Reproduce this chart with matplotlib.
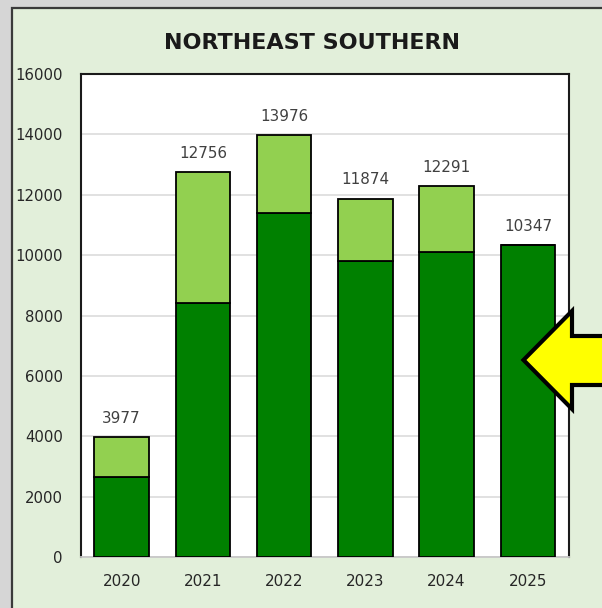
import matplotlib
matplotlib.use("Agg")
import matplotlib.pyplot as plt
from matplotlib.patches import Rectangle, Polygon
import numpy as np

years = ["2020", "2021", "2022", "2023", "2024", "2025"]
dark_vals = [2640, 8420, 11410, 9820, 10090, 10347]
light_vals = [1337, 4336, 2566, 2054, 2201, 0]
title = "NORTHEAST SOUTHERN"
yticks = [0, 2000, 4000, 6000, 8000, 10000, 12000, 14000, 16000]

W, H = 602, 608
fig = plt.figure(figsize=(W / 100, H / 100), dpi=100, facecolor="#d6d6d6")

def fx(px):
    return px / W

def fy(py):
    return 1 - py / H

# chart area background
fig.add_artist(Rectangle((fx(11.5), fy(610)), fx(602 - 11.5 + 5), (608 - 7.5 + 2) / H + 0,
                         transform=fig.transFigure, facecolor="#e2efda",
                         edgecolor="#3a3a3a", linewidth=1.6, zorder=0))

ax = fig.add_axes([fx(81), fy(557), fx(568.5 - 81), (557 - 74) / H])
ax.set_facecolor("white")

x = np.arange(len(years))
width = 0.67
ax.bar(x, dark_vals, width, color="#008000", edgecolor="black", linewidth=1.3, zorder=3)
ax.bar(x, light_vals, width, bottom=dark_vals, color="#92d050", edgecolor="black",
       linewidth=1.3, zorder=3)

totals = [d + l for d, l in zip(dark_vals, light_vals)]
for xi, t in zip(x, totals):
    ax.annotate(f"{t}", (xi, t), xytext=(0, 8.0), textcoords="offset points",
                ha="center", va="bottom", fontsize=10.9, color="#404040")

ax.set_xlim(-0.5, len(years) - 0.5)
ax.set_ylim(0, 16000)
ax.set_yticks(yticks)
ax.set_yticklabels([str(v) for v in yticks], fontsize=10.7, color="#262626")
ax.set_xticks(x)
ax.set_xticklabels(years, fontsize=10.9, color="#262626")
ax.tick_params(axis="y", length=0, pad=13)
ax.tick_params(axis="x", length=0, pad=12.5)
ax.grid(axis="y", color="#d9d9d9", linewidth=1.1, zorder=0)
ax.set_axisbelow(True)
for side in ["left", "right", "top"]:
    ax.spines[side].set_color("#1a1a1a")
    ax.spines[side].set_linewidth(1.5)
ax.spines["bottom"].set_color("#c8c8c8")
ax.spines["bottom"].set_linewidth(1.3)

fig.text(fx(312), fy(43), title, ha="center", va="center", fontsize=16,
         fontweight="bold", color="#1a1a1a")

# yellow arrow decoration
arrow_px = [(523.5, 360), (572, 311), (572, 336), (610, 336), (610, 385),
            (572, 385), (572, 409)]
fig.add_artist(Polygon([(fx(a), fy(b)) for a, b in arrow_px], closed=True,
                       transform=fig.transFigure, facecolor="#ffff00",
                       edgecolor="black", linewidth=3, joinstyle="miter", zorder=10))

fig.savefig("out.png", dpi=100, facecolor=fig.get_facecolor())
